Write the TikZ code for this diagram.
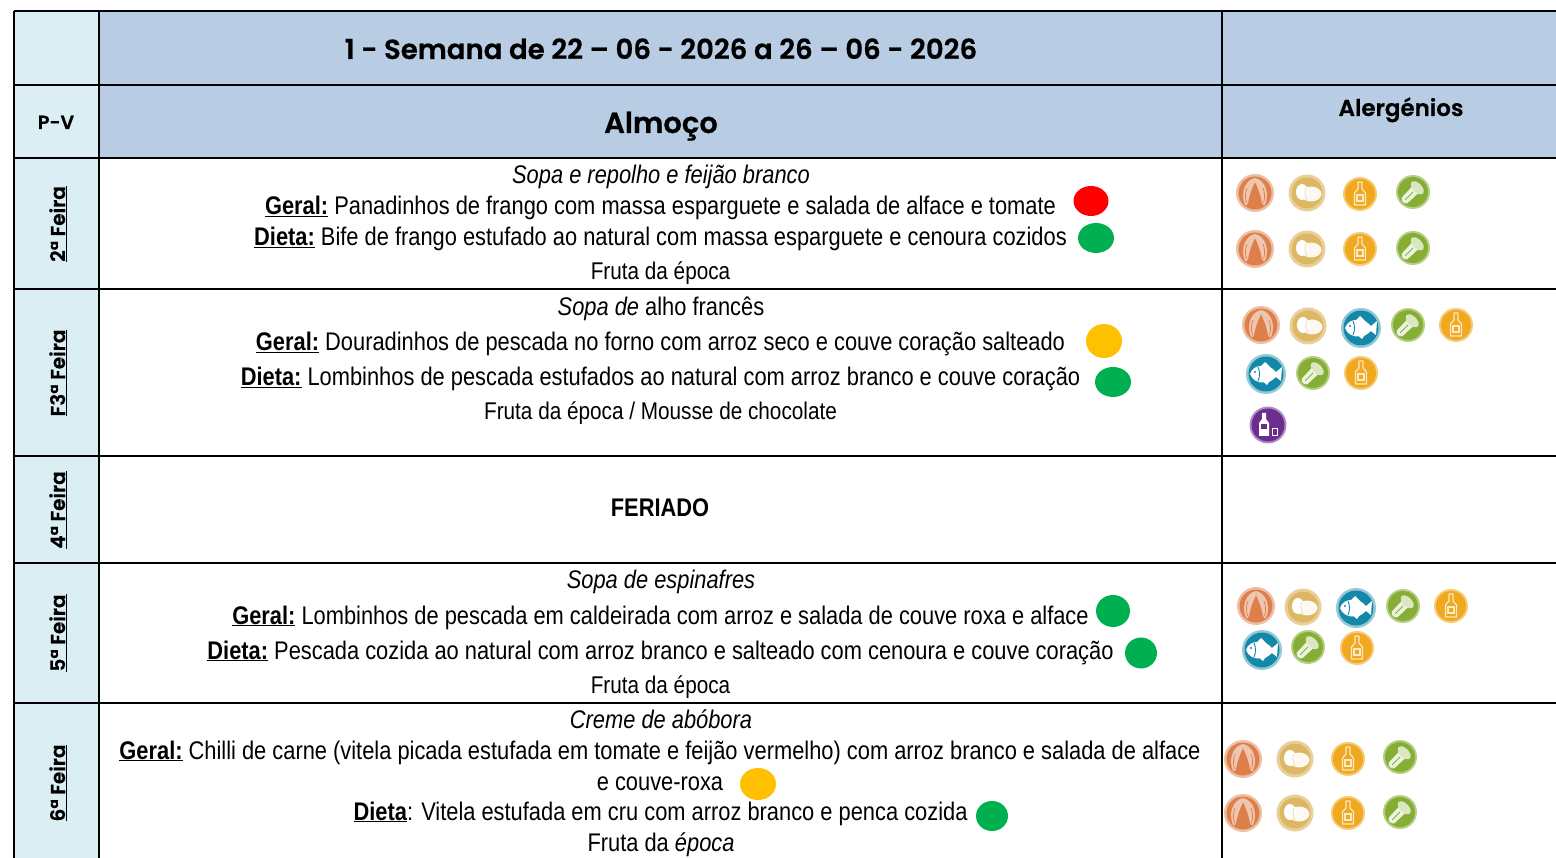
\documentclass[tikz,border=0pt]{standalone}
\usepackage{fontspec}
\setmainfont[FakeStretch=0.857]{Liberation Sans}
\newfontfamily\headf{Poppins}[BoldFont=* SemiBold,BoldFeatures={FakeBold=0.6}]
\usetikzlibrary{shapes.geometric}
\definecolor{sidec}{HTML}{DAEEF3}
\definecolor{headc}{HTML}{B8CCE4}
\definecolor{redd}{HTML}{FF0000}
\definecolor{greend}{HTML}{00B050}
\definecolor{amberd}{HTML}{FFC000}
\definecolor{crustc}{HTML}{DD7F4A}
\definecolor{eggc}{HTML}{DDB763}
\definecolor{mustc}{HTML}{F0A81E}
\definecolor{celc}{HTML}{86AE35}
\definecolor{fishc}{HTML}{1388A8}
\definecolor{sulc}{HTML}{6B2E8E}
\tikzset{x=1pt,y=-1pt,
 grid/.style={draw=black,line width=1.5pt},
 txt/.style={font=\fontsize{25.5}{25.5}\selectfont,text=black,inner sep=0,anchor=base},
 txts/.style={font=\fontsize{24.2}{24.2}\selectfont,text=black,inner sep=0,anchor=base},
 head/.style={font=\headf\bfseries,text=black,inner sep=0,anchor=base},
 day/.style={font=\headf\bfseries\fontsize{20}{20}\selectfont,rotate=90,inner sep=0,anchor=base}}
\newcommand{\crust}[2]{\begin{scope}[shift={(#1,#2)}]
 \fill[crustc!50!white] (0,0) circle[radius=19];
 \fill[crustc] (0,0) circle[radius=16.5];
 \fill[white!55!crustc] (0,-15) .. controls (-10,-13) and (-15,0) .. (-10,12) .. controls (-9,13) and (-8,12) .. (-7,10) .. controls (-6,3) and (-3,-5) .. (0,-11) .. controls (3,-5) and (6,3) .. (7,10) .. controls (8,12) and (9,13) .. (10,12) .. controls (15,0) and (10,-13) .. (0,-15) -- cycle;
 \draw[crustc,line width=.7pt] (-8,-5) .. controls (-10,0) and (-10,5) .. (-8.5,10);
 \draw[crustc,line width=.7pt] (8,-5) .. controls (10,0) and (10,5) .. (8.5,10);
 \end{scope}}
\newcommand{\egg}[2]{\begin{scope}[shift={(#1,#2)}]
 \fill[eggc!65!white] (0,0) circle[radius=18.5];
 \fill[eggc] (0,0) circle[radius=15.5];
 \fill[white!92!eggc] (4,1) ellipse[x radius=10.5,y radius=7.5];
 \fill[white] (-5,-1) ellipse[x radius=6,y radius=8];
 \draw[eggc!60!white,line width=.7pt] (-1,-5) .. controls (-3,-1) and (-2,3) .. (0,7);
 \end{scope}}
\newcommand{\must}[2]{\begin{scope}[shift={(#1,#2)}]
 \fill[mustc!60!white] (0,0) circle[radius=17];
 \fill[mustc] (0,0) circle[radius=15];
 \draw[white!75!mustc,line width=1.2pt,line join=round] (-2,-12) -- (2,-12) -- (2,-5) -- (5.5,-1) -- (5.5,11) -- (-5.5,11) -- (-5.5,-1) -- (-2,-5) -- cycle;
 \draw[white!75!mustc,line width=1.1pt] (-3,1) rectangle (3,7);
 \end{scope}}
\newcommand{\cel}[2]{\begin{scope}[shift={(#1,#2)}]
 \fill[celc!60!white] (0,0) circle[radius=17];
 \fill[celc] (0,0) circle[radius=15];
 \fill[white!85!celc,rotate=-45] (-4.5,-3) -- (4.5,-3) -- (4,12) .. controls (2,15) and (-2,15) .. (-4,12) -- cycle;
 \fill[white!70!celc,rotate=-45] (0,-6) ellipse[x radius=8,y radius=4.5];
 \draw[celc,line width=.8pt,rotate=-45] (0,0) -- (0,11);
 \end{scope}}
\newcommand{\fishi}[2]{\begin{scope}[shift={(#1,#2)}]
 \fill[fishc!45!white] (0,0) circle[radius=20];
 \fill[fishc] (0,0) circle[radius=17.5];
 \fill[white] (-16,0) .. controls (-14,-6) and (-9,-8) .. (-5,-8) -- (-1,-12) -- (4,-7) .. controls (7,-5) and (9,-3) .. (10,-2) -- (16,-7) -- (15,7) -- (10,3) .. controls (8,5) and (5,7) .. (3,8) -- (1,11) -- (-2,8.5) .. controls (-8,9) and (-14,6) .. (-16,0) -- cycle;
 \draw[fishc,line width=.9pt] (-8,-7) .. controls (-6,-3) and (-6,3) .. (-8,7);
 \fill[fishc] (-11,-2) circle[radius=1.1];
 \end{scope}}
\newcommand{\sul}[2]{\begin{scope}[shift={(#1,#2)}]
 \fill[sulc!55!white] (0,0) circle[radius=18.5];
 \fill[sulc] (0,0) circle[radius=16.5];
 \fill[white] (-6,-12) -- (-2,-12) -- (-2,-6) -- (1,-2) -- (1,11) -- (-9,11) -- (-9,-2) -- (-6,-6) -- cycle;
 \fill[sulc] (-7,-1) rectangle (-1,4);
 \draw[white,line width=1pt] (4,4) rectangle (9,11);
 \end{scope}}
\begin{document}
\begin{tikzpicture}
\useasboundingbox (0,0) rectangle (1556,858);
\fill[white] (0,0) rectangle (1556,858);
% fills
\fill[sidec] (14,11) rectangle (99,858);
\fill[headc] (99,11) rectangle (1556,158);
% grid
\draw[grid] (14,11) -- (1556,11);
\draw[grid] (14,85) -- (1556,85);
\draw[grid] (14,158) -- (1556,158);
\draw[grid] (14,289) -- (1556,289);
\draw[grid] (14,456) -- (1556,456);
\draw[grid] (14,563) -- (1556,563);
\draw[grid] (14,703) -- (1556,703);
\draw[grid] (14,11) -- (14,858);
\draw[grid] (99,11) -- (99,858);
\draw[grid] (1222,11) -- (1222,858);
% headers
\node[head,font=\headf\bfseries\fontsize{27.6}{27.6}\selectfont] (title) at (661,59) {1 - Semana de 22 – 06 - 2026 a 26 – 06 - 2026};
\node[head,font=\headf\bfseries\fontsize{29}{29}\selectfont] (almoco) at (661,133) {Almoço};
\node[head,font=\headf\bfseries\fontsize{23}{23}\selectfont] (alerg) at (1401,116) {Alergénios};
\node[head,font=\headf\bfseries\fontsize{19}{19}\selectfont] (pv) at (56,129) {P-V};
% days
\node[day] (d2) at (65,224) {\underline{2ª Feira}};
\node[day] (d3) at (65,373) {\underline{F3ª Feira}};
\node[day] (d4) at (65,510) {\underline{4ª Feira}};
\node[day] (d5) at (65,633) {\underline{5ª Feira}};
\node[day] (d6) at (65,783) {\underline{6ª Feira}};
% monday
\node[txt] (a1) at (661,184) {\itshape Sopa e repolho e feijão branco};
\node[txt] (a2) at (660.5,215) {\underline{\textbf{Geral:}} Panadinhos de frango com massa esparguete e salada de alface e tomate};
\node[txt] (a3) at (660.5,246) {\underline{\textbf{Dieta:}} Bife de frango estufado ao natural com massa esparguete e cenoura cozidos};
\node[txts] (a4) at (660.5,280) {Fruta da época};
% tuesday
\node[txt] (b1) at (661,316) {\textit{Sopa de} alho francês};
\node[txt] (b2) at (660.5,351) {\underline{\textbf{Geral:}} Douradinhos de pescada no forno com arroz seco e couve coração salteado};
\node[txt] (b3) at (660.5,386) {\underline{\textbf{Dieta:}} Lombinhos de pescada estufados ao natural com arroz branco e couve coração};
\node[txts] (b4) at (660.5,420) {Fruta da época / Mousse de chocolate};
% wednesday
\node[txt,font=\bfseries\fontsize{25.5}{25.5}\selectfont] (c1) at (660,516) {FERIADO};
% thursday
\node[txt] (e1) at (661,588) {\itshape Sopa de espinafres};
\node[txt] (e2) at (660.5,624) {\underline{\textbf{Geral:}} Lombinhos de pescada em caldeirada com arroz e salada de couve roxa e alface};
\node[txt] (e3) at (660.5,659) {\underline{\textbf{Dieta:}} Pescada cozida ao natural com arroz branco e salteado com cenoura e couve coração};
\node[txts] (e4) at (660.5,693) {Fruta da época};
% friday
\node[txt] (f1) at (661,728) {\itshape Creme de abóbora};
\node[txt] (f2) at (660,759) {\underline{\textbf{Geral:}} Chilli de carne (vitela picada estufada em tomate e feijão vermelho) com arroz branco e salada de alface};
\node[txt] (f3) at (660,790) {e couve-roxa};
\node[txt] (f4) at (660.5,820) {\underline{\textbf{Dieta}}: Vitela estufada em cru com arroz branco e penca cozida};
\node[txt] (f5) at (661,851) {Fruta da \textit{época}};
% dots
\fill[redd] (1091,201) ellipse[x radius=17.5,y radius=15];
\fill[greend] (1096,238) ellipse[x radius=18,y radius=15];
\fill[amberd] (1104,341) ellipse[x radius=18,y radius=17];
\fill[greend] (1113,382) ellipse[x radius=18,y radius=15];
\fill[greend] (1113,611) ellipse[x radius=17,y radius=16];
\fill[greend] (1141,653) ellipse[x radius=16,y radius=15.5];
\fill[amberd] (758,784) ellipse[x radius=18,y radius=16];
\fill[greend] (992,816) ellipse[x radius=16,y radius=15];
% icons
\crust{1255}{193}\egg{1307}{193}\must{1360}{194}\cel{1413}{192}
\crust{1255}{249}\egg{1307}{249}\must{1360}{249}\cel{1413}{248}
\crust{1261}{325}\egg{1308}{326}\fishi{1361}{328}\cel{1408}{325}\must{1456}{325}
\fishi{1266}{374}\cel{1313}{373}\must{1361}{373}
\sul{1268}{425}
\crust{1256}{606}\egg{1303}{607}\fishi{1356}{608}\cel{1403}{606}\must{1451}{606}
\fishi{1262}{650}\cel{1308}{647}\must{1357}{648}
\crust{1243}{759}\egg{1295}{759}\must{1348}{759}\cel{1400}{757}
\crust{1243}{813}\egg{1295}{813}\must{1348}{813}\cel{1400}{812}
\end{tikzpicture}
\end{document}
